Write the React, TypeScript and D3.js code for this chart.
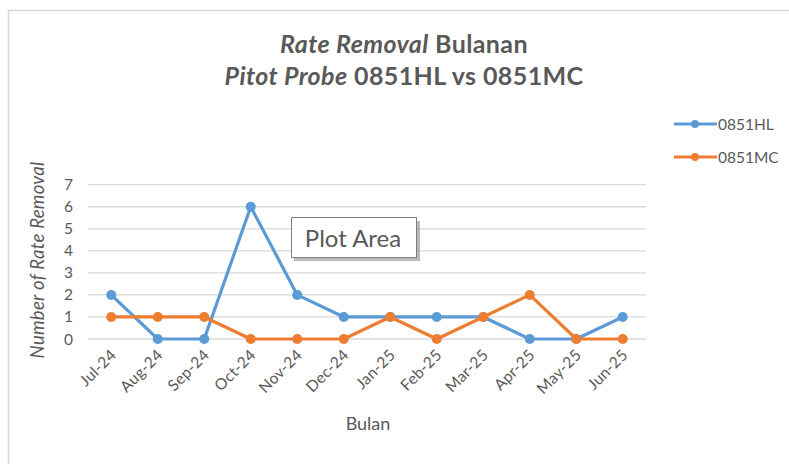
import React, { useEffect, useRef } from "react";
import * as d3 from "d3";

const months = ["Jul-24", "Aug-24", "Sep-24", "Oct-24", "Nov-24", "Dec-24", "Jan-25", "Feb-25", "Mar-25", "Apr-25", "May-25", "Jun-25"];
const hlValues = [2, 0, 0, 6, 2, 1, 1, 1, 1, 0, 0, 1];
const mcValues = [1, 1, 1, 0, 0, 0, 1, 0, 1, 2, 0, 0];
const yTicks = [0, 1, 2, 3, 4, 5, 6, 7];
const seriesNames = ["0851HL", "0851MC"];
const seriesColors = ["#5B9BD5", "#ED7D31"];

const W = 789;
const H = 464;
const FONT = "Lato, 'Open Sans', sans-serif";
const GRAY = "#595959";

const App = () => {
  const ref = useRef<SVGSVGElement>(null);

  useEffect(() => {
    const svg = d3.select(ref.current);
    svg.selectAll("*").remove();

    // chart border
    svg.append("rect")
      .attr("x", 8.5).attr("y", 10.5)
      .attr("width", W).attr("height", H)
      .attr("fill", "#fff").attr("stroke", "#D9D9D9").attr("stroke-width", 1.5);

    const left = 88, right = 646, top = 184.7, bottom = 339;

    const x = d3.scaleBand().domain(months).range([left, right]);
    const y = d3.scaleLinear().domain([0, 7]).range([bottom, top]);

    // gridlines
    svg.append("g")
      .selectAll("line")
      .data(yTicks)
      .enter()
      .append("line")
      .attr("x1", left).attr("x2", right)
      .attr("y1", (d) => y(d)).attr("y2", (d) => y(d))
      .attr("stroke", "#D9D9D9").attr("stroke-width", 1.3);

    // y tick labels
    svg.append("g")
      .selectAll("text")
      .data(yTicks)
      .enter()
      .append("text")
      .attr("x", 73).attr("y", (d) => y(d) + 5.5)
      .attr("text-anchor", "end")
      .attr("font-family", FONT).attr("font-size", 15.5)
      .attr("fill", GRAY)
      .text((d) => d);

    // x tick labels
    svg.append("g")
      .selectAll("text")
      .data(months)
      .enter()
      .append("text")
      .attr("transform", (d) => `translate(${x(d)! + x.bandwidth() / 2 + 6},${bottom + 17}) rotate(-45)`)
      .attr("text-anchor", "end")
      .attr("font-family", FONT).attr("font-size", 15.5).attr("letter-spacing", 0.3)
      .attr("fill", GRAY)
      .text((d) => d);

    const cx = (i: number) => x(months[i])! + x.bandwidth() / 2;

    [hlValues, mcValues].forEach((vals, s) => {
      const line = d3.line<number>().x((_, i) => cx(i)).y((d) => y(d));
      svg.append("path")
        .datum(vals)
        .attr("d", line)
        .attr("fill", "none")
        .attr("stroke", seriesColors[s])
        .attr("stroke-width", 3.2)
        .attr("stroke-linejoin", "round");
      svg.append("g")
        .selectAll("circle")
        .data(vals)
        .enter()
        .append("circle")
        .attr("cx", (_, i) => cx(i)).attr("cy", (d) => y(d))
        .attr("r", 5)
        .attr("fill", seriesColors[s]);
    });

    // title
    const title = svg.append("text")
      .attr("text-anchor", "middle")
      .attr("font-family", FONT).attr("font-size", 25).attr("font-weight", "bold")
      .attr("letter-spacing", 0.4)
      .attr("fill", GRAY);
    const t1 = title.append("tspan").attr("x", 404).attr("y", 53);
    t1.append("tspan").attr("font-style", "italic").text("Rate Removal");
    t1.append("tspan").text(" Bulanan");
    const t2 = title.append("tspan").attr("x", 404).attr("y", 85);
    t2.append("tspan").attr("font-style", "italic").text("Pitot Probe");
    t2.append("tspan").text(" 0851HL vs 0851MC");

    // axis titles
    svg.append("text")
      .attr("transform", "translate(44,260) rotate(-90)")
      .attr("text-anchor", "middle")
      .attr("font-family", FONT).attr("font-size", 18.5).attr("font-style", "italic")
      .attr("letter-spacing", 0.3)
      .attr("fill", GRAY)
      .text("Number of Rate Removal");

    svg.append("text")
      .attr("x", 368).attr("y", 430)
      .attr("text-anchor", "middle")
      .attr("font-family", FONT).attr("font-size", 18)
      .attr("fill", GRAY)
      .text("Bulan");

    // legend
    seriesNames.forEach((name, i) => {
      const ly = 124 + i * 33;
      svg.append("line")
        .attr("x1", 674).attr("x2", 717).attr("y1", ly).attr("y2", ly)
        .attr("stroke", seriesColors[i]).attr("stroke-width", 3.2);
      svg.append("circle")
        .attr("cx", 695).attr("cy", ly).attr("r", 4)
        .attr("fill", seriesColors[i]);
      svg.append("text")
        .attr("x", 718).attr("y", ly + 5.5)
        .attr("font-family", FONT).attr("font-size", 15.5)
        .attr("fill", GRAY)
        .text(name);
    });

    // "Plot Area" tooltip
    const tip = svg.append("g");
    tip.append("rect")
      .attr("x", 294).attr("y", 221).attr("width", 126).attr("height", 40)
      .attr("fill", "#8c8c8c").attr("opacity", 0.6);
    tip.append("rect")
      .attr("x", 291.5).attr("y", 217.5).attr("width", 125).attr("height", 40)
      .attr("fill", "#fff").attr("stroke", "#7f7f7f").attr("stroke-width", 1);
    tip.append("text")
      .attr("x", 353).attr("y", 247)
      .attr("text-anchor", "middle")
      .attr("font-family", FONT).attr("font-size", 24)
      .attr("fill", GRAY)
      .text("Plot Area");
  }, []);

  return (
    <div style={{ position: "absolute", left: 0, top: 0 }}>
      <svg ref={ref} width={W} height={H} style={{ display: "block" }} />
    </div>
  );
};

export default App;
